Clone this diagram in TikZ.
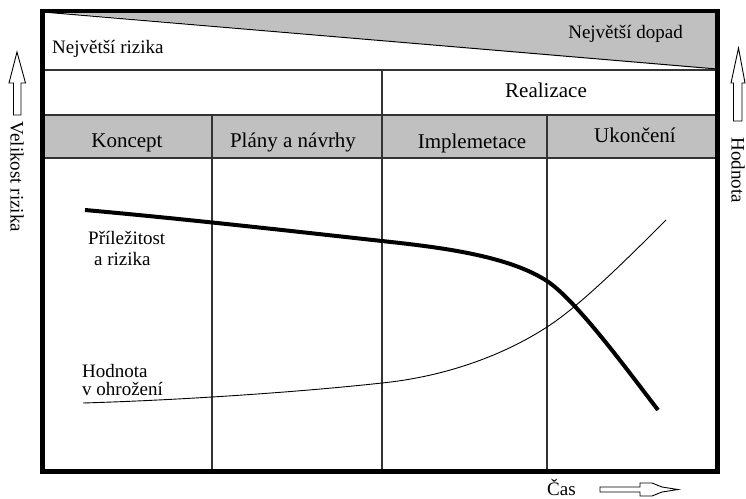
\documentclass[tikz,border=0pt]{standalone}
\usepackage{fontspec}
\setmainfont{Liberation Serif}
\definecolor{band}{RGB}{192,192,192}
\begin{document}
\begin{tikzpicture}[x=1pt,y=-1pt,
  lbl/.style={font=\fontsize{19}{21}\selectfont, inner sep=0pt, anchor=base},
  hdr/.style={font=\fontsize{21}{23}\selectfont, inner sep=0pt, anchor=base},
  gridline/.style={line width=1.1pt, draw=black!80},
  frameline/.style={line width=4.5pt},
  hollow/.style={draw, line width=0.9pt, fill=white, line join=miter},
]
\useasboundingbox (0,0) rectangle (746,498);

% shaded areas: impact wedge and phase band
\fill[band] (42.5,11) -- (717.5,11) -- (717.5,69) -- cycle;
\fill[band] (42.5,115) rectangle (717.5,158);
\draw[line width=1pt] (43,12) -- (717,69);

% table rules
\draw[gridline] (42.5,70) -- (717.5,70);
\draw[gridline] (42.5,115) -- (717.5,115);
\draw[gridline] (42.5,158) -- (717.5,158);
\draw[gridline] (382,70) -- (382,471.5);
\draw[gridline] (212,115) -- (212,471.5);
\draw[gridline] (547,115) -- (547,471.5);

% opportunities and risks: slow decline, then steep fall
\draw[line width=4pt, line join=round]
  (85,210) .. controls (185,219) and (282,230) .. (382,241)
  .. controls (437,247) and (507,255) .. (547,281)
  .. controls (577,301) and (628,371) .. (658,410);
% value at stake: slow rise, then steep climb
\draw[line width=0.9pt]
  (83,403) .. controls (183,400) and (300,392) .. (382,383)
  .. controls (450,376) and (507,353) .. (547,327)
  .. controls (580,306) and (630,256) .. (666,220);

% outer frame
\draw[frameline] (42.5,11) rectangle (717.5,471.5);

% labels
\node[lbl, anchor=base west] (risks) at (52,53) {Největší rizika};
\node[lbl, anchor=base east] (impact) at (683,38) {Největší dopad};
\node[hdr] (real) at (546,97) {Realizace};
\node[hdr] (koncept) at (127,147) {Koncept};
\node[hdr] (plany) at (293,147) {Plány a návrhy};
\node[hdr] (impl) at (472,148) {Implemetace};
\node[hdr] (ukonceni) at (635,142) {Ukončení};
\node[lbl, anchor=base west] (opp1) at (88,244) {Příležitost};
\node[lbl, anchor=base west] (opp2) at (94,265) {a rizika};
\node[lbl, anchor=base west] (val1) at (82,377) {Hodnota};
\node[lbl, anchor=base west] (val2) at (82,395) {v ohrožení};
\node[lbl, anchor=base west] (cas) at (547,495) {Čas};
\node[lbl, rotate=-90, anchor=center] (vel) at (17,177) {Velikost rizika};
\node[lbl, rotate=-90, anchor=center] (hod) at (738,170) {Hodnota};

% hollow axis arrows
\draw[hollow] (13.5,115) -- (13.5,83) -- (9,83) -- (17,52) -- (25.5,83) -- (21,83) -- (21,115) -- cycle;
\draw[hollow] (733.5,121) -- (733.5,83) -- (731,83) -- (738.5,48) -- (745,83) -- (742,83) -- (742,121) -- cycle;
\draw[hollow] (600,487) -- (640,487) -- (640,483) -- (652,483) -- (662,487) -- (678,489.5)
  -- (662,492) -- (652,496) -- (640,496) -- (640,492) -- (600,492) -- cycle;
\end{tikzpicture}
\end{document}
